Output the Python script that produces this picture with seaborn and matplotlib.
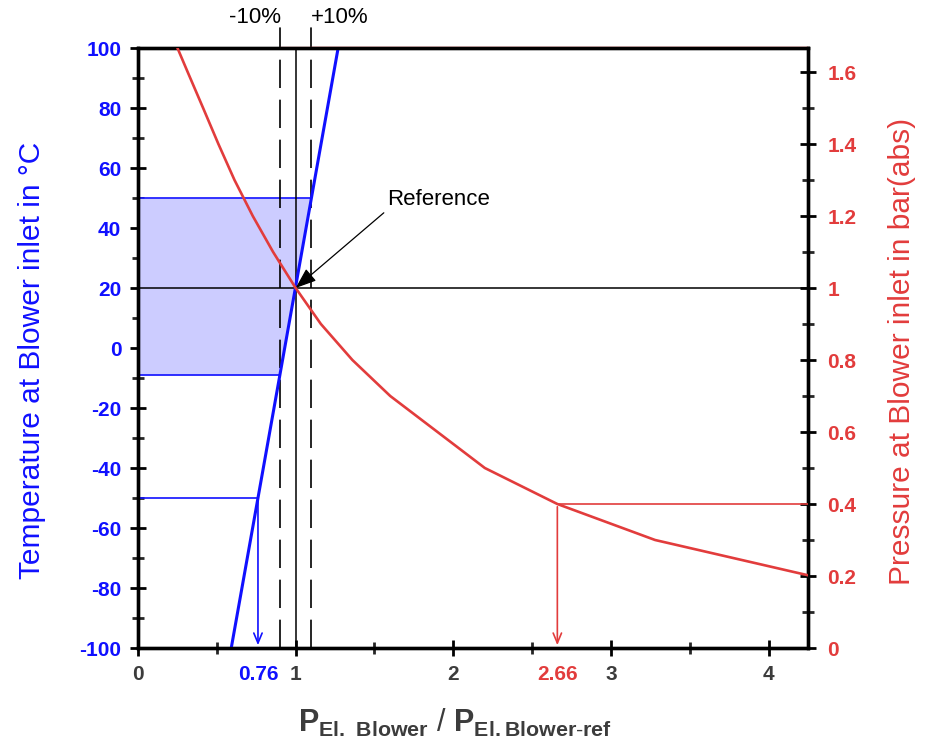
import numpy as np
import pandas as pd
import seaborn as sns
import matplotlib
matplotlib.use("Agg")
import matplotlib.pyplot as plt
from matplotlib.ticker import MultipleLocator

sns.set_theme(style="white")
plt.rcParams["font.family"] = ["Liberation Sans", "DejaVu Sans"]
plt.rcParams["mathtext.fontset"] = "custom"
plt.rcParams["mathtext.rm"] = "Liberation Sans"
plt.rcParams["mathtext.bf"] = "Liberation Sans:bold"
plt.rcParams["axes.unicode_minus"] = False

# ---------------- data ----------------
temp_c = [-100, 100]                       # temperature at blower inlet (°C)
temp_ratio = [0.5915, 1.2695]              # P_el / P_el,ref for temperature

pressure_bar = [1.667, 1.6, 1.5, 1.4, 1.3, 1.2, 1.1, 1.0, 0.9, 0.8, 0.7, 0.6, 0.5, 0.4, 0.3, 0.2]
pressure_ratio = [0.25, 0.315, 0.413, 0.51, 0.612, 0.728, 0.857, 1.0, 1.16, 1.36, 1.6, 1.9, 2.2, 2.66, 3.28, 4.27]

power_band = [0.9, 1.1]                    # -10% / +10%
reference_ratio = 1.0
reference_temp = 20
example_temp = -50
example_pressure = 0.4
band_labels = ["-10%", "+10%"]

x_ticks = [0, 1, 2, 3, 4]
temp_ticks = list(range(-100, 101, 20))
pressure_ticks = [0, 0.2, 0.4, 0.6, 0.8, 1, 1.2, 1.4, 1.6]
pressure_ticklabels = ["0", "0.2", "0.4", "0.6", "0.8", "1", "1.2", "1.4", "1.6"]

BLUE = "#1010ff"
RED = "#e23c3c"
GRAY = "#3c3c3c"

df_t = pd.DataFrame({"ratio": temp_ratio, "temp": temp_c})
df_p = pd.DataFrame({"ratio": pressure_ratio, "p": pressure_bar})

p_sorted = pressure_bar[::-1]
r_sorted = pressure_ratio[::-1]

fig = plt.figure(figsize=(9.3, 7.45), dpi=100)
ax = fig.add_axes([138 / 930, 1 - 648 / 745, 670 / 930, 600 / 745])
ax2 = ax.twinx()

XMAX = 4.25
ax.set_xlim(0, XMAX)
ax.set_ylim(-100, 100)
ax2.set_ylim(0, 5 / 3)

# ----- blue band (temperature) -----
t_band = np.interp(power_band, temp_ratio, temp_c)
ax.fill_betweenx(t_band, 0, power_band, color="#ccccff", lw=0, zorder=1)
ax.plot([0, power_band[1]], [t_band[1]] * 2, color=BLUE, lw=1.2, zorder=2)
ax.plot([0, power_band[0]], [t_band[0]] * 2, color=BLUE, lw=1.2, zorder=2)

# ----- red band (pressure) -----
p_band = np.interp(power_band[::-1], r_sorted, p_sorted)  # p at 1.1 , p at 0.9
pg = np.linspace(p_band[0], p_band[1], 50)
ax2.fill_betweenx(pg, np.interp(pg, p_sorted, r_sorted), XMAX, color="#f7d2d2", lw=0, zorder=1)
ax2.plot([power_band[0], XMAX], [p_band[1]] * 2, color=RED, lw=1.6, zorder=2, clip_on=False)
ax2.plot([power_band[1], XMAX], [p_band[0]] * 2, color=RED, lw=1.6, zorder=2, clip_on=False)

# ----- reference lines -----
ax.axvline(reference_ratio, color="black", lw=1.1, zorder=3)
ax.plot([0, XMAX], [reference_temp] * 2, color="black", lw=1.1, zorder=3)
for xv in power_band:
    ax.plot([xv, xv], [-100, 100], color="black", lw=1.2, dashes=(17, 7), zorder=3)
    ax.plot([xv, xv], [100, 106.7], color="black", lw=1.2, clip_on=False, zorder=3)
ax.text(power_band[0] + 0.005, 108.3, band_labels[0], ha="right", va="baseline", fontsize=16, color="black")
ax.text(power_band[1] - 0.005, 108.3, band_labels[1], ha="left", va="baseline", fontsize=16, color="black")

# ----- curves -----
sns.lineplot(data=df_t, x="ratio", y="temp", ax=ax, color=BLUE, lw=2.2, zorder=4, legend=False)
sns.lineplot(data=df_p, x="ratio", y="p", ax=ax2, color=RED, lw=1.9, zorder=4, legend=False, sort=False)

# ----- example read-offs -----
r_t = np.interp(example_temp, temp_c, temp_ratio)
ax.plot([0, r_t], [example_temp] * 2, color=BLUE, lw=1.2, zorder=4)
ax.annotate("", xy=(r_t, -100), xytext=(r_t, example_temp),
            arrowprops=dict(arrowstyle="->,head_length=0.6,head_width=0.25", color=BLUE, lw=1.2), zorder=4)
ax.annotate(f"{r_t:.2f}", xy=(r_t, -100), xytext=(0, -12), textcoords="offset points",
            ha="center", va="top", fontsize=15, fontweight="bold", color=BLUE, annotation_clip=False)

r_p = np.interp(example_pressure, p_sorted, r_sorted)
ax2.plot([r_p, XMAX], [example_pressure] * 2, color=RED, lw=1.2, zorder=4)
ax2.annotate("", xy=(r_p, 0), xytext=(r_p, example_pressure),
             arrowprops=dict(arrowstyle="->,head_length=0.6,head_width=0.25", color=RED, lw=1.2), zorder=4)
ax2.annotate(f"{r_p:.2f}", xy=(r_p, 0), xytext=(0, -12), textcoords="offset points",
             ha="center", va="top", fontsize=15, fontweight="bold", color=RED, annotation_clip=False)

# ----- Reference annotation -----
ax.annotate("Reference", xy=(reference_ratio, reference_temp), xytext=(1.58, 46),
            ha="left", va="bottom", fontsize=16, color="black",
            arrowprops=dict(arrowstyle="-|>,head_length=0.8,head_width=0.3", color="black", lw=0.9,
                            shrinkA=0, shrinkB=0, relpos=(0, 0)), zorder=6)

# ----- axes styling -----
ax.set_xticks(x_ticks)
ax.set_xticklabels([str(v) for v in x_ticks])
ax.xaxis.set_minor_locator(MultipleLocator(0.5))
ax.set_yticks(temp_ticks)
ax.yaxis.set_minor_locator(MultipleLocator(10))
ax2.set_yticks(pressure_ticks)
ax2.set_yticklabels(pressure_ticklabels)
ax2.yaxis.set_minor_locator(MultipleLocator(0.1))

for a in (ax, ax2):
    for s in a.spines.values():
        s.set_linewidth(2.4)
        s.set_color("black")
        s.set_visible(True)

ax.tick_params(axis="x", which="major", direction="inout", length=12, width=2, colors="black",
               labelcolor=GRAY, labelsize=15, pad=6, top=False, bottom=True)
ax.tick_params(axis="x", which="minor", direction="inout", length=8, width=2, top=False, bottom=True)
ax.tick_params(axis="y", which="major", direction="inout", length=12, width=2, colors="black",
               labelcolor=BLUE, labelsize=15, pad=6, left=True, right=False)
ax.tick_params(axis="y", which="minor", direction="inout", length=8, width=2, left=True, right=False)
ax2.tick_params(axis="y", which="major", direction="inout", length=12, width=2, colors="black",
                labelcolor=RED, labelsize=15, pad=8, right=True, left=False)
ax2.tick_params(axis="y", which="minor", direction="inout", length=8, width=2, right=True, left=False)
for lab in ax.get_xticklabels() + ax.get_yticklabels() + ax2.get_yticklabels():
    lab.set_fontweight("bold")

ax.set_ylabel("Temperature at Blower inlet in °C", color=BLUE, fontsize=21.5)
ax.yaxis.set_label_coords(-0.138, 0.48)
ax2.set_ylabel("Pressure at Blower inlet in bar(abs)", color=RED, fontsize=21.5, rotation=90)
ax2.yaxis.set_label_coords(1.119, 0.495)
ax.set_xlabel(r"$\mathbf{P}_{\mathbf{El.\ Blower}}$ / $\mathbf{P}_{\mathbf{El.Blower\text{-}ref}}$",
              color=GRAY, fontsize=22)
ax.xaxis.set_label_coords(0.473, -0.098)

ax.grid(False)
ax2.grid(False)
ax.set_zorder(2)
ax2.set_zorder(3)
ax2.patch.set_visible(False)

fig.savefig("out.png", dpi=100, facecolor="white")
